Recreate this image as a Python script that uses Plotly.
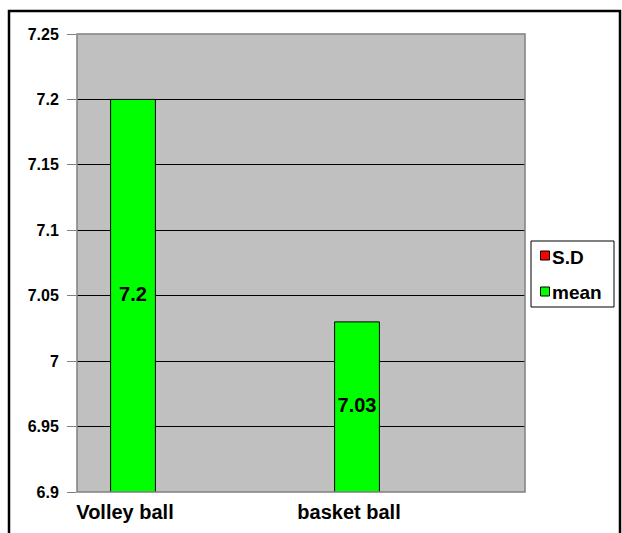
import plotly.graph_objects as go

categories = ["Volley ball", "basket ball"]
mean_values = [7.2, 7.03]
sd_values = [None, None]  # S.D bars fall below the visible axis range
mean_labels = ["7.2", "7.03"]
y_tickvals = [6.9, 6.95, 7.0, 7.05, 7.1, 7.15, 7.2, 7.25]
y_range = [6.9, 7.25]
legend_names = ["S.D", "mean"]
legend_colors = ["#FF0000", "#00FF00"]

FONT = "Liberation Sans, Arial, sans-serif"
BAR_W = 0.2
MEAN_OFF = -0.35

# plot-area pixel geometry
L, T, W, H = 77, 34, 448, 458
def px(xp):
    return (xp - L) / W
def py(yp):
    return (T + H - yp) / H

fig = go.Figure()

fig.add_trace(go.Bar(
    x=categories, y=mean_values, name="mean",
    marker=dict(color="#00FF00", line=dict(color="#000000", width=1)),
    width=BAR_W, offset=MEAN_OFF, showlegend=False,
))
fig.add_trace(go.Bar(
    x=categories, y=sd_values, name="S.D",
    marker=dict(color="#FF0000", line=dict(color="#000000", width=1)),
    width=BAR_W, offset=MEAN_OFF + BAR_W, showlegend=False,
))

# data labels centred in the visible part of each bar (overlay linear axis)
label_x = [i + MEAN_OFF + BAR_W / 2 for i in range(len(categories))]
label_y = [(y_range[0] + v) / 2 for v in mean_values]
fig.add_trace(go.Scatter(
    x=label_x, y=label_y, mode="text", text=mean_labels, xaxis="x2",
    textfont=dict(family=FONT, size=20, color="#000000", weight="bold"),
    showlegend=False, hoverinfo="skip",
))

# legend drawn as box + keys + text
shapes = [
    dict(type="rect", xref="paper", yref="paper", x0=0, x1=1, y0=0, y1=1,
         line=dict(color="#808080", width=1.5), layer="above"),
    dict(type="rect", xref="paper", yref="paper",
         x0=px(9), x1=px(620), y0=py(545), y1=py(11),
         line=dict(color="#000000", width=2.5), layer="above"),
    dict(type="rect", xref="paper", yref="paper",
         x0=px(531), x1=px(614), y0=py(307), y1=py(241),
         line=dict(color="#000000", width=1), fillcolor="#FFFFFF", layer="above"),
]
annotations = []
row_y = [257.5, 292]
key_y = [255.5, 291.5]
for name, color, ry, ky in zip(legend_names, legend_colors, row_y, key_y):
    shapes.append(dict(type="rect", xref="paper", yref="paper",
                       x0=px(540.5), x1=px(549.5), y0=py(ky + 4.5), y1=py(ky - 4.5),
                       line=dict(color="#000000", width=1), fillcolor=color, layer="above"))
    annotations.append(dict(xref="paper", yref="paper", x=px(550), y=py(ry),
                            xanchor="left", yanchor="middle", showarrow=False, text=name,
                            font=dict(family=FONT, size=19, color="#000000", weight="bold")))

fig.update_layout(
    width=622, height=533,
    margin=dict(l=L, r=622 - L - W, t=T, b=533 - T - H, autoexpand=False),
    paper_bgcolor="#FFFFFF",
    plot_bgcolor="#C0C0C0",
    barmode="overlay",
    showlegend=False,
    xaxis=dict(
        type="category", range=[-0.5, 1.5],
        showgrid=False, zeroline=False, ticks="",
        tickfont=dict(family=FONT, size=20, color="#000000", weight="bold"),
        ticklabelshift=-64, ticklabelstandoff=6,
        showline=False,
    ),
    xaxis2=dict(
        overlaying="x", range=[-0.5, 1.5], visible=False,
    ),
    yaxis=dict(
        range=y_range, tickvals=y_tickvals,
        showgrid=True, gridcolor="#000000", gridwidth=1,
        zeroline=False, ticks="outside", ticklen=9, tickcolor="#808080",
        tickfont=dict(family=FONT, size=16, color="#000000", weight="bold"),
        showline=False, ticklabelstandoff=5,
    ),
    shapes=shapes,
    annotations=annotations,
)

fig.write_html("out.html")
